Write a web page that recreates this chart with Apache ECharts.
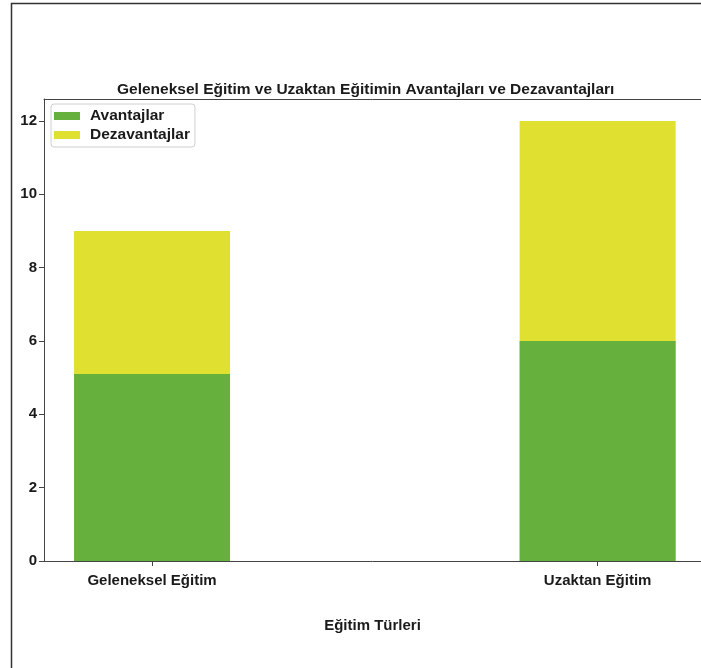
<!DOCTYPE html>
<html>
<head>
<meta charset="utf-8">
<script src="https://cdn.jsdelivr.net/npm/echarts@6/dist/echarts.min.js"></script>
<style>html,body{margin:0;padding:0;background:#fff}#c{width:701px;height:668px}</style>
</head>
<body>
<div id="c"></div>
<script>
const categories = ['Geleneksel Eğitim', 'Uzaktan Eğitim'];
const avantajlar = [5.1, 6.0];
const dezavantajlar = [3.9, 6.0];
const yTicks = [0, 2, 4, 6, 8, 10, 12];
const seriesNames = ['Avantajlar', 'Dezavantajlar'];
const titleText = 'Geleneksel Eğitim ve Uzaktan Eğitimin Avantajları ve Dezavantajları';
const xName = 'Eğitim Türleri';

const FONT = '"Liberation Sans", Arial, sans-serif';
const TXT = {fontFamily: FONT, fontSize: 15, fontWeight: 'bold', color: '#1a1a1a'};
const chart = echarts.init(document.getElementById('c'), null, {renderer: 'canvas'});
const xIdx = categories.map((_, i) => i);
const X_MIN = -0.2425, X_MAX = 1.232;
// stacked tops (bottom segment + top segment)
const totals = avantajlar.map((v, i) => v + dezavantajlar[i]);
chart.setOption({
  animation: false,
  backgroundColor: '#fff',
  title: {
    text: titleText, left: 112, top: 77,
    textStyle: Object.assign({}, TXT, {fontSize: 15.5})
  },
  graphic: [{
    type: 'rect', silent: true, z: 100,
    shape: {x: 11.5, y: 3.5, width: 800, height: 800},
    style: {fill: 'none', stroke: '#333', lineWidth: 1.5}
  }],
  legend: {
    orient: 'vertical', left: 51, top: 104,
    itemWidth: 26, itemHeight: 8, itemGap: 3, icon: 'rect',
    padding: [4, 5, 4, 3],
    backgroundColor: '#fff', borderColor: '#d0d0d0', borderWidth: 1, borderRadius: 3,
    textStyle: Object.assign({}, TXT, {fontSize: 15.5, padding: [0, 0, 0, 5]}),
    data: seriesNames
  },
  grid: {left: 44, right: 0, top: 99, bottom: 107},
  xAxis: [{
    type: 'value', min: X_MIN, max: X_MAX,
    name: xName, nameLocation: 'middle', nameGap: 57,
    nameTextStyle: TXT,
    axisLine: {show: true, onZero: false, lineStyle: {color: '#444', width: 1}},
    axisTick: {show: true, customValues: xIdx, length: 5, inside: false, lineStyle: {color: '#444'}},
    axisLabel: Object.assign({customValues: xIdx, margin: 12, formatter: v => categories[Math.round(v)]}, TXT),
    splitLine: {show: false}
  }, {
    type: 'value', position: 'top', min: X_MIN, max: X_MAX,
    axisLine: {show: true, onZero: false, lineStyle: {color: '#444', width: 1}},
    axisTick: {show: false}, axisLabel: {show: false}, splitLine: {show: false}
  }],
  yAxis: {
    type: 'value', min: 0, max: 12.6,
    axisLine: {show: true, onZero: false, lineStyle: {color: '#444', width: 1}},
    axisTick: {show: true, customValues: yTicks, length: 5, inside: false, lineStyle: {color: '#444'}},
    axisLabel: Object.assign({customValues: yTicks, margin: 7}, TXT),
    splitLine: {show: false}
  },
  series: [
    {name: seriesNames[0], type: 'bar', barWidth: 156, barGap: '-100%', z: 3,
      itemStyle: {color: '#66b03d'},
      data: avantajlar.map((v, i) => [i, v])},
    {name: seriesNames[1], type: 'bar', barWidth: 156, barGap: '-100%', z: 2,
      itemStyle: {color: '#e0e030'},
      data: totals.map((v, i) => [i, v])}
  ]
});
</script>
</body>
</html>
